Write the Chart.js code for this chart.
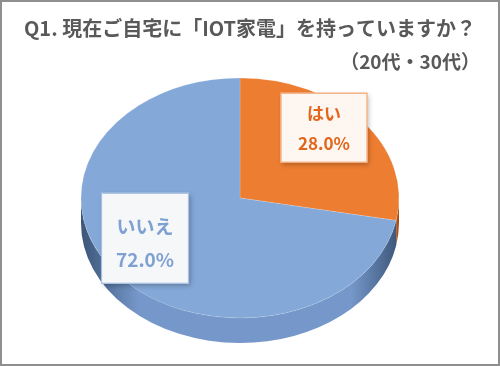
<!DOCTYPE html>
<html><head><meta charset="utf-8">
<script src="https://cdn.jsdelivr.net/npm/chart.js@4/dist/chart.umd.min.js"></script>
<style>
html,body{margin:0;padding:0;background:#fff;}
#wrap{position:relative;width:500px;height:366px;box-sizing:border-box;border:2px solid #8f8f8f;overflow:hidden;}
canvas{position:absolute;left:-2px;top:-2px;}
</style></head>
<body><div id="wrap"><canvas id="c" width="500" height="366"></canvas></div>
<script>
// ---- data ----
const categories = ['はい', 'いいえ'];
const values = [28.0, 72.0];
const titleText = 'Q1. 現在ご自宅に「IOT家電」を持っていますか？';
const subtitleText = '（20代・30代）';

// ---- style ----
const topColors = ['#ED7D31', '#84A8D7'];
const sideDark = ['#a9501a', '#3c5578'];
const sideMid = ['#d96f28', '#7597c9'];
const labelText = ['#E2671D', '#7FA1D2'];
const labelFill = ['#FDF6F1', '#F6F7F9'];
const labelBorder = ['#F2A46E', '#A6BFE2'];
const labelFont = [17, 19];
const labelBox = [[87, 70], [88, 91]];
const labelLineOff = [[-14, 16], [-12, 21]];
const labelShift = [[-3, -2], [-8, 0]];
const GEO = {cx: 240, cy: 198, rx: 159, ry: 120, depth: 25, labelFrac: 0.71, labelDy: -14};
const FONT = '"Noto Sans CJK JP", "Noto Sans", sans-serif';

const pie3d = {
  id: 'pie3d',
  beforeDatasetsDraw(chart) {
    const ctx = chart.ctx;
    const meta = chart.getDatasetMeta(0);
    const a0 = meta.data[0];
    const R = a0.outerRadius;
    const {cx, cy, rx, ry, depth} = GEO;
    meta.data.forEach((arc, i) => {
      const s = Math.max(arc.startAngle, 0);
      const e = Math.min(arc.endAngle, Math.PI);
      if (e <= s) return;
      const g = ctx.createLinearGradient(cx - rx, 0, cx + rx, 0);
      g.addColorStop(0, sideDark[i]);
      g.addColorStop(0.18, sideMid[i]);
      g.addColorStop(0.5, sideMid[i]);
      g.addColorStop(0.85, sideMid[i]);
      g.addColorStop(1, sideDark[i]);
      ctx.save();
      ctx.beginPath();
      ctx.ellipse(cx, cy, rx, ry, 0, s, e, false);
      ctx.lineTo(cx + rx * Math.cos(e), cy + depth + ry * Math.sin(e));
      ctx.ellipse(cx, cy + depth, rx, ry, 0, e, s, true);
      ctx.closePath();
      ctx.fillStyle = g;
      ctx.fill();
      ctx.restore();
    });
    ctx.save();
    ctx.translate(cx, cy);
    ctx.scale(rx / R, ry / R);
    ctx.translate(-a0.x, -a0.y);
  },
  afterDatasetsDraw(chart) {
    const ctx = chart.ctx;
    ctx.restore();
    const meta = chart.getDatasetMeta(0);
    const {cx, cy, rx, ry, labelFrac, labelDy} = GEO;
    const total = values.reduce((p, v) => p + v, 0);
    meta.data.forEach((arc, i) => {
      const m = (arc.startAngle + arc.endAngle) / 2;
      const x = cx + rx * labelFrac * Math.cos(m) + labelShift[i][0];
      const y = cy + ry * labelFrac * Math.sin(m) + labelDy + labelShift[i][1];
      const [w, h] = labelBox[i];
      ctx.save();
      ctx.shadowColor = 'rgba(0,0,0,0.28)';
      ctx.shadowBlur = 5;
      ctx.shadowOffsetX = 2;
      ctx.shadowOffsetY = 2;
      ctx.fillStyle = labelFill[i];
      ctx.fillRect(x - w / 2, y - h / 2, w, h);
      ctx.restore();
      ctx.save();
      ctx.strokeStyle = labelBorder[i];
      ctx.lineWidth = 1.2;
      ctx.strokeRect(x - w / 2 + 0.5, y - h / 2 + 0.5, w - 1, h - 1);
      ctx.fillStyle = labelText[i];
      ctx.font = 'bold ' + labelFont[i] + 'px ' + FONT;
      ctx.textAlign = 'center';
      ctx.textBaseline = 'middle';
      ctx.fillText(categories[i], x, y + labelLineOff[i][0]);
      ctx.fillText((values[i] / total * 100).toFixed(1) + '%', x, y + labelLineOff[i][1]);
      ctx.restore();
    });
  }
};

new Chart(document.getElementById('c'), {
  type: 'pie',
  data: {
    labels: categories,
    datasets: [{
      data: values,
      backgroundColor: topColors,
      borderColor: 'rgba(255,255,255,0.25)',
      borderWidth: 0.6,
      clip: false
    }]
  },
  options: {
    responsive: false,
    animation: false,
    events: [],
    layout: {padding: {left: 20, right: 20, top: 16, bottom: 10}},
    plugins: {
      legend: {display: false},
      tooltip: {enabled: false},
      title: {
        display: true, text: titleText, align: 'center', color: '#595959',
        font: {family: FONT, size: 20, weight: 'bold'}, padding: {top: 0, bottom: 10}
      },
      subtitle: {
        display: true, text: subtitleText, align: 'end', color: '#595959',
        font: {family: FONT, size: 19, weight: 'bold'}, padding: {top: 0, bottom: 10}
      }
    }
  },
  plugins: [pie3d]
});
</script></body></html>
